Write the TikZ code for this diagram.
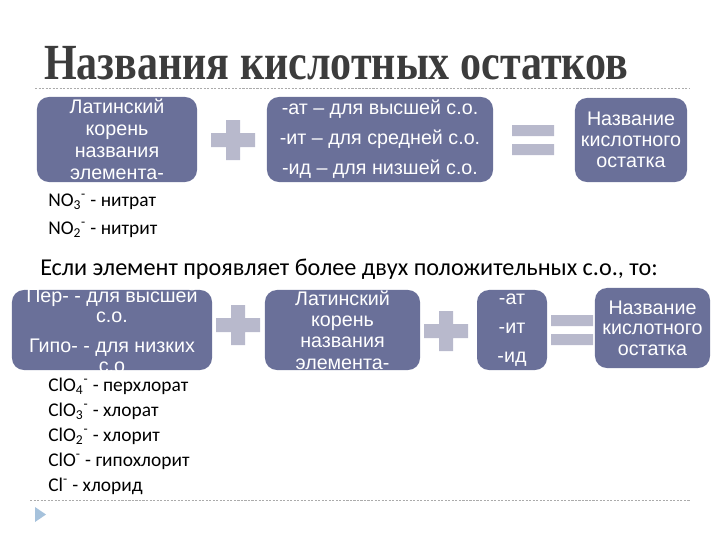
\documentclass[tikz,border=0pt]{standalone}
\usepackage{fontspec}
\setmainfont{Carlito}
\newfontfamily\boxfont{Liberation Sans}
\newfontfamily\titlefont[FakeStretch=0.83]{Liberation Serif}
\usetikzlibrary{calc}
\definecolor{boxblue}{HTML}{6A7099}
\definecolor{signgray}{HTML}{B8B9CC}
\definecolor{titlegray}{HTML}{3C3C3C}
\definecolor{rulegray}{HTML}{ABABAB}
\definecolor{markblue}{HTML}{A6C2DC}
\tikzset{
  blockbox/.style={fill=boxblue, rounded corners=0.3cm, inner sep=0pt},
  blocktext/.style={text=white, align=center, inner sep=0pt},
  listtext/.style={font=\fontsize{13.8}{15}\selectfont, anchor=base west, inner sep=0pt},
  signfill/.style={fill=signgray},
  ruleline/.style={rulegray, dash pattern=on 1.5pt off 1pt, line width=0.5pt}
}
\newcommand{\plussign}[2]{\fill[signfill, shift={(#1,#2)}] (-22,-7) rectangle (22,7) (-7,-20) rectangle (7,20);}
\newcommand{\equalsign}[2]{\fill[signfill, shift={(#1,#2)}] (-21,-15) rectangle (21,-4) (-21,4) rectangle (21,15);}
\newcommand{\bx}[1]{\boxfont\fontsize{14}{#1}\selectfont}
\begin{document}
\begin{tikzpicture}[x=0.025cm, y=-0.025cm]
  \useasboundingbox (0,0) rectangle (720,540);
  % title
  \node[anchor=base west, inner sep=0pt, text=titlegray, font=\titlefont\bfseries\fontsize{36}{40}\selectfont] (title) at (44,79) {Названия кислотных остатков};
  \draw[ruleline] (35,88) -- (690,88);
  % first row
  \node[blockbox, minimum width=4.0cm, minimum height=2.125cm] (root1) at (117,139.5) {};
  \node[blocktext, font=\bx{15.6pt}] (root1t) at (root1) {Латинский\\корень\\названия\\элемента-};
  \plussign{233}{140}
  \node[blockbox, minimum width=5.65cm, minimum height=2.125cm] (suff1) at (380,139.5) {};
  \node[blocktext, font=\bx{21.3pt}] (suff1t) at (suff1) {-ат – для высшей с.о.\\-ит – для средней с.о.\\-ид – для низшей с.о.};
  \equalsign{533}{140}
  \node[blockbox, minimum width=2.8cm, minimum height=2.1cm] (name1) at (631,140) {};
  \node[blocktext, font=\bx{14.9pt}] (name1t) at (name1) {Название\\кислотного\\остатка};
  \node[listtext] (no3) at (48,206) {NO\textsubscript{3}\textsuperscript{-} - нитрат};
  \node[listtext] (no2) at (48,234) {NO\textsubscript{2}\textsuperscript{-} - нитрит};
  % condition
  \node[anchor=base west, inner sep=0pt, font=\fontsize{17.2}{19}\selectfont] (cond) at (40,275) {Если элемент проявляет более двух положительных с.о., то:};
  % second row
  \node[blockbox, minimum width=5.0cm, minimum height=2.0cm] (pref2) at (112,330) {};
  \node[blocktext, font=\bx{14.2pt}] (pref2t) at (pref2) {Пер- - для высшей\\с.о.\\[7pt]Гипо- - для низких\\с.о};
  \plussign{238}{325}
  \node[blockbox, minimum width=3.875cm, minimum height=2.0cm] (root2) at (342.5,330) {};
  \node[blocktext, font=\bx{15.1pt}] (root2t) at (root2) {Латинский\\корень\\названия\\элемента-};
  \plussign{446}{331}
  \node[blockbox, minimum width=1.75cm, minimum height=2.0cm] (suff2) at (512,330) {};
  \node[blocktext, font=\bx{20.6pt}] (suff2t) at (suff2) {-ат\\-ит\\-ид};
  \equalsign{572}{330}
  \node[blockbox, minimum width=2.875cm, minimum height=2.0cm] (name2) at (652.5,328) {};
  \node[blocktext, font=\bx{14.5pt}] (name2t) at (name2) {Название\\кислотного\\остатка};
  % chlorine list
  \foreach \txt [count=\i] in {ClO\textsubscript{4}\textsuperscript{-} - перхлорат, ClO\textsubscript{3}\textsuperscript{-} - хлорат, ClO\textsubscript{2}\textsuperscript{-} - хлорит, ClO\textsuperscript{-} - гипохлорит, Cl\textsuperscript{-} - хлорид}
    \node[listtext] (cl\i) at (48,366+25*\i) {\txt};
  \draw[ruleline] (30,500) -- (690,500);
  \fill[markblue] (35,507) -- (46,514.5) -- (35,522) -- cycle;
\end{tikzpicture}
\end{document}
